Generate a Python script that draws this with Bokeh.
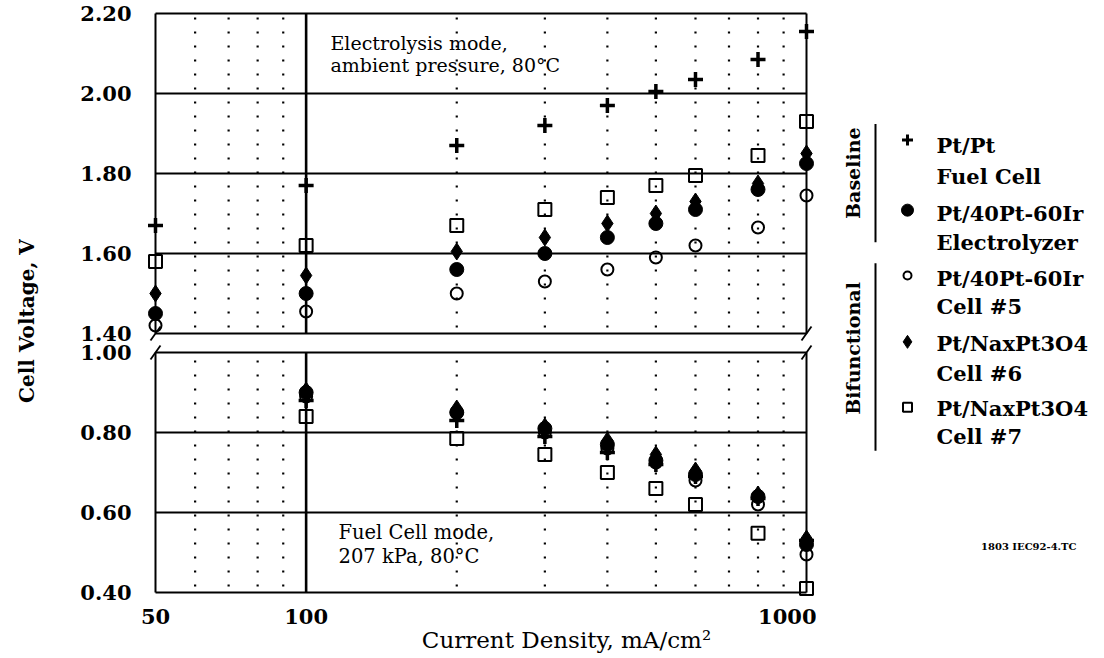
import math
from bokeh.plotting import figure
from bokeh.models import Range1d, FixedTicker, PrintfTickFormatter, Label, CustomJSTickFormatter
from bokeh.layouts import row, column
from bokeh.embed import file_html
from bokeh.resources import INLINE

# ---------------- data ----------------
x_ec = [50, 100, 200, 300, 400, 500, 600, 800, 1000]
ptpt_ec = [1.67, 1.77, 1.87, 1.92, 1.97, 2.005, 2.035, 2.085, 2.155]
ptir_ec = [1.45, 1.50, 1.56, 1.60, 1.64, 1.675, 1.71, 1.76, 1.825]
cell5_ec = [1.42, 1.455, 1.50, 1.53, 1.56, 1.59, 1.62, 1.665, 1.745]
cell6_ec = [1.50, 1.545, 1.605, 1.64, 1.675, 1.70, 1.73, 1.775, 1.85]
cell7_ec = [1.58, 1.62, 1.67, 1.71, 1.74, 1.77, 1.795, 1.845, 1.93]

x_fc = [100, 200, 300, 400, 500, 600, 800, 1000]
ptpt_fc = [0.88, 0.83, 0.79, 0.75, 0.72, 0.69, 0.635, 0.53]
ptir_fc = [0.90, 0.85, 0.81, 0.77, 0.73, 0.695, 0.64, 0.52]
cell5_fc = [0.89, 0.85, 0.80, 0.76, 0.725, 0.68, 0.62, 0.495]
cell6_fc = [0.905, 0.86, 0.815, 0.78, 0.745, 0.705, 0.645, 0.535]
cell7_fc = [0.84, 0.785, 0.745, 0.70, 0.66, 0.62, 0.548, 0.41]

x_ticks = [50, 100, 1000]
x_major_grid = [100]
x_minor_grid = [60, 70, 80, 90, 200, 300, 400, 500, 600, 700, 800, 900]
y_ticks_top = [1.40, 1.60, 1.80, 2.00, 2.20]
y_ticks_bot = [0.40, 0.60, 0.80, 1.00]

legend_names = [("Pt/Pt", "Fuel Cell"), ("Pt/40Pt-60Ir", "Electrolyzer"),
                ("Pt/40Pt-60Ir", "Cell #5"), ("Pt/NaxPt3O4", "Cell #6"),
                ("Pt/NaxPt3O4", "Cell #7")]

# ---------------- geometry ----------------
XMIN, XMAX = 50, 1000
PXDEC = 500.4          # px per decade
PXV = 400.0            # px per volt
padx = 10 / PXDEC
X_RANGE = (XMIN / 10 ** padx, XMAX * 10 ** padx)

FRAME_TOP, FRAME_BOT = 5, 600          # page pixels
LO_BOTTOM = 0.40 - 8 / PXV             # value at frame bottom (lower panel)
LO_TOP = LO_BOTTOM + (FRAME_BOT - FRAME_TOP) / PXV
HI_TOP = 2.20 + 8 / PXV                # value at frame top (upper panel)
OFF = HI_TOP - LO_TOP                  # shift between the two y ranges

SERIF = "DejaVu Serif"
LEFT_W = 48
MAIN_W = 816 - LEFT_W
RIGHT_W = 284
TOTAL_H = 658
MAIN_H = 628
BOT_H = TOTAL_H - MAIN_H

STY = {
    "ptpt": dict(marker="cross", size=15, line_width=3.5, line_color="black"),
    "ptir": dict(marker="circle", size=14, fill_color="black", line_color="black"),
    "cell5": dict(marker="circle", size=12, fill_color=None, line_color="black", line_width=2),
    "cell6": dict(marker="diamond", size=17, fill_color="black", line_color="black"),
    "cell7": dict(marker="square", size=13, fill_color=None, line_color="black", line_width=2),
}

p = figure(width=MAIN_W, height=MAIN_H, x_axis_type="log",
           x_range=Range1d(*X_RANGE), y_range=Range1d(LO_BOTTOM, LO_TOP),
           output_backend="svg", toolbar_location=None,
           min_border_left=145 - LEFT_W, min_border_right=0,
           min_border_top=FRAME_TOP, min_border_bottom=MAIN_H - FRAME_BOT)
p.extra_y_ranges = {"top": Range1d(LO_BOTTOM + OFF, LO_TOP + OFF)}
p.outline_line_color = None
p.xgrid.visible = False
p.ygrid.visible = False


def style_axis(ax, standoff):
    ax.axis_line_color = None
    ax.major_tick_line_color = None
    ax.minor_tick_line_color = None
    ax.major_label_standoff = standoff
    ax.major_label_text_font = SERIF
    ax.major_label_text_font_size = "21px"
    ax.major_label_text_font_style = "bold"
    ax.major_label_text_color = "black"


ya = p.yaxis[0]
ya.ticker = FixedTicker(ticks=y_ticks_bot + [v - OFF for v in y_ticks_top])
ya.formatter = CustomJSTickFormatter(
    args=dict(off=OFF, split=1.02),
    code="const v = tick > split ? tick + off : tick; return v.toFixed(2);")
style_axis(ya, 8)

xa = p.xaxis[0]
xa.ticker = FixedTicker(ticks=x_ticks)
xa.formatter = PrintfTickFormatter(format="%d")
style_axis(xa, 2)


def frame_and_grid(ylo, yhi, hlevels, rn):
    n = len(hlevels)
    m = len(x_minor_grid)
    p.segment(x0=x_minor_grid, x1=x_minor_grid, y0=[ylo] * m, y1=[yhi] * m,
              line_color="black", line_width=2.2, line_dash="2 12",
              line_dash_offset=-6, y_range_name=rn)
    p.segment(x0=[XMIN] * n, x1=[XMAX] * n, y0=hlevels, y1=hlevels,
              line_color="black", line_width=2, y_range_name=rn)
    p.segment(x0=[XMIN, XMAX], x1=[XMIN, XMAX], y0=[ylo, ylo], y1=[yhi, yhi],
              line_color="black", line_width=2, y_range_name=rn)
    p.segment(x0=x_major_grid, x1=x_major_grid, y0=[ylo], y1=[yhi],
              line_color="black", line_width=2.6, y_range_name=rn)


def break_marks(yv, rn):
    f = 10 ** (5 / PXDEC)
    dy = 7 / PXV
    p.segment(x0=[XMIN / f, XMAX / f], x1=[XMIN * f, XMAX * f],
              y0=[yv - dy] * 2, y1=[yv + dy] * 2,
              line_color="black", line_width=1.8, y_range_name=rn)


def xpx(px):
    return 10 ** (math.log10(XMIN) + (px - 155) / PXDEC)


# ---------------- upper panel (electrolysis) ----------------
frame_and_grid(1.40, 2.20, y_ticks_top, "top")
break_marks(1.40, "top")
for key, ys in (("cell7", cell7_ec), ("cell5", cell5_ec), ("ptir", ptir_ec),
                ("cell6", cell6_ec), ("ptpt", ptpt_ec)):
    p.scatter(x_ec, ys, y_range_name="top", **STY[key])

for txt, py in (("Electrolysis mode,", 42), ("ambient pressure, 80°C", 64)):
    p.add_layout(Label(x=xpx(330), y=2.20 - (py - 13) / PXV, y_range_name="top",
                       text=txt, text_font=SERIF, text_font_size="19px",
                       text_baseline="middle", text_color="black"))

# ---------------- lower panel (fuel cell) ----------------
frame_and_grid(0.40, 1.00, y_ticks_bot, "default")
break_marks(1.00, "default")
for key, ys in (("cell7", cell7_fc), ("cell5", cell5_fc), ("ptir", ptir_fc),
                ("cell6", cell6_fc), ("ptpt", ptpt_fc)):
    p.scatter(x_fc, ys, **STY[key])

for txt, py in (("Fuel Cell mode,", 532), ("207 kPa, 80°C", 556)):
    p.add_layout(Label(x=xpx(338), y=1.00 - (py - 352) / PXV, text=txt,
                       text_font=SERIF, text_font_size="19.5px",
                       text_baseline="middle", text_color="black"))


def strip(width, height):
    q = figure(width=width, height=height, x_range=Range1d(0, width),
               y_range=Range1d(0, height), output_backend="svg",
               toolbar_location=None, min_border=0,
               x_axis_location=None, y_axis_location=None)
    q.outline_line_color = None
    q.xgrid.visible = False
    q.ygrid.visible = False
    return q


# ---------------- left strip: y axis title ----------------
pl = strip(LEFT_W, MAIN_H)
pl.add_layout(Label(x=26, y=MAIN_H - 333, text="Cell Voltage, V", angle=math.pi / 2,
                    text_font=SERIF, text_font_size="20px", text_font_style="bold",
                    text_align="center", text_baseline="middle", text_color="black"))

# ---------------- right strip: legend ----------------
pr = strip(RIGHT_W, MAIN_H)
OX = 816


def lx(px):
    return px - OX


def ly(py):
    return MAIN_H - py


mk_y = [142, 216, 285, 355, 424]
l1_y = [148, 220, 288, 357, 425]
l2_y = [180, 250, 318, 388, 455]
leg_sty = [
    dict(marker="cross", size=11, line_width=3, line_color="black"),
    dict(marker="circle", size=12, fill_color="black", line_color="black"),
    dict(marker="circle", size=8, fill_color=None, line_color="black", line_width=2),
    dict(marker="diamond", size=13, fill_color="black", line_color="black"),
    dict(marker="square", size=9, fill_color=None, line_color="black", line_width=2),
]
for i, st in enumerate(leg_sty):
    pr.scatter([lx(907)], [ly(mk_y[i])], **st)
    for txt, yy in ((legend_names[i][0], l1_y[i]), (legend_names[i][1], l2_y[i])):
        pr.add_layout(Label(x=lx(936), y=ly(yy), text=txt, text_font=SERIF,
                            text_font_size="21px", text_font_style="bold",
                            text_baseline="middle", text_color="black"))

pr.segment(x0=[lx(875), lx(875)], x1=[lx(875), lx(875)],
           y0=[ly(125), ly(272)], y1=[ly(250), ly(470)], line_color="black", line_width=2)
pr.add_layout(Label(x=lx(852), y=ly(177), text="Baseline", angle=math.pi / 2,
                    text_font=SERIF, text_font_size="19px", text_font_style="bold",
                    text_align="center", text_baseline="middle", text_color="black"))
pr.add_layout(Label(x=lx(852), y=ly(362), text="Bifunctional", angle=math.pi / 2,
                    text_font=SERIF, text_font_size="19px", text_font_style="bold",
                    text_align="center", text_baseline="middle", text_color="black"))
pr.add_layout(Label(x=lx(1076), y=ly(571), text="1803 IEC92-4.TC", text_font=SERIF,
                    text_font_size="10px", text_font_style="bold", text_align="right",
                    text_baseline="middle", text_color="black"))

# ---------------- bottom strip: x axis title ----------------
pb = strip(LEFT_W + MAIN_W + RIGHT_W, BOT_H)
pb.add_layout(Label(x=566, y=TOTAL_H - 639, text="Current Density, mA/cm²",
                    text_font=SERIF, text_font_size="23px", text_align="center",
                    text_baseline="middle", text_color="black"))

layout = column(row(pl, p, pr), pb)
open("out.html", "w").write(file_html(layout, INLINE))
